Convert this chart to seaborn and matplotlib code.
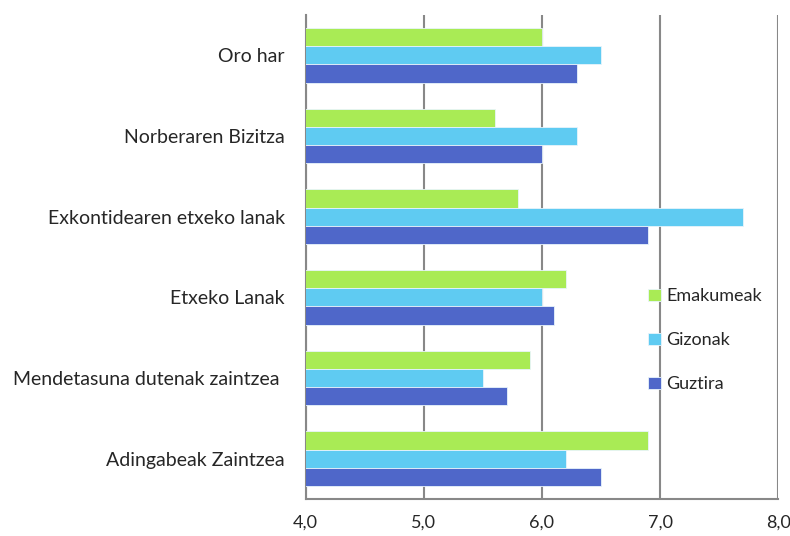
import pandas as pd
import seaborn as sns
import matplotlib.pyplot as plt
from matplotlib.ticker import FixedLocator

# Data
categories = ['Oro har', 'Norberaren Bizitza', 'Exkontidearen etxeko lanak',
              'Etxeko Lanak', 'Mendetasuna dutenak zaintzea ', 'Adingabeak Zaintzea']
emakumeak = [6.0, 5.6, 5.8, 6.2, 5.9, 6.9]
gizonak = [6.5, 6.3, 7.7, 6.0, 5.5, 6.2]
guztira = [6.3, 6.0, 6.9, 6.1, 5.7, 6.5]
series = ['Emakumeak', 'Gizonak', 'Guztira']
colors = ['#A9EB55', '#5FCBF2', '#4F67C9']
xticks = [4.0, 5.0, 6.0, 7.0, 8.0]

df = pd.DataFrame({'Kategoria': categories * 3,
                   'Balioa': emakumeak + gizonak + guztira,
                   'Taldea': [s for s in series for _ in categories]})

sns.set_style('white')
plt.rcParams['font.family'] = ['Lato', 'DejaVu Sans']

fig = plt.figure(figsize=(7.9, 5.36), dpi=100)
ax = fig.add_axes([0.387, 0.069, 0.598, 0.903])

sns.barplot(data=df, y='Kategoria', x='Balioa', hue='Taldea', order=categories,
            hue_order=series, palette=colors, saturation=1, orient='h', width=0.68,
            edgecolor='#e8f4fb', linewidth=0.6, errorbar=None, ax=ax, zorder=3)

ax.set_xlim(4.0, 8.0)
ax.set_ylim(len(categories) - 0.5, -0.5)
ax.set_xticks(xticks)
ax.set_xticklabels([f'{v:.1f}'.replace('.', ',') for v in xticks], fontsize=13)
ax.set_xlabel('')
ax.set_ylabel('')
ax.tick_params(axis='y', length=0, labelsize=14, pad=15)
ax.yaxis.set_minor_locator(FixedLocator([i - 0.5 for i in range(len(categories) + 1)]))
ax.tick_params(axis='y', which='minor', length=5, width=1.5, color='#888888', direction='out')
ax.tick_params(axis='x', length=5, width=1.5, color='#888888', direction='out', pad=6)

ax.grid(axis='x', color='#888888', linewidth=1.5, zorder=0)
ax.set_axisbelow(True)
for side in ['top', 'right']:
    ax.spines[side].set_visible(False)
for side in ['left', 'bottom']:
    ax.spines[side].set_color('#888888')
    ax.spines[side].set_linewidth(1.5)

leg = ax.legend(loc='center left', bbox_to_anchor=(0.69, 0.328), frameon=False,
                fontsize=13, handlelength=0.7, handleheight=0.7, handletextpad=0.3,
                labelspacing=1.55)

fig.savefig('out.png', dpi=100)
